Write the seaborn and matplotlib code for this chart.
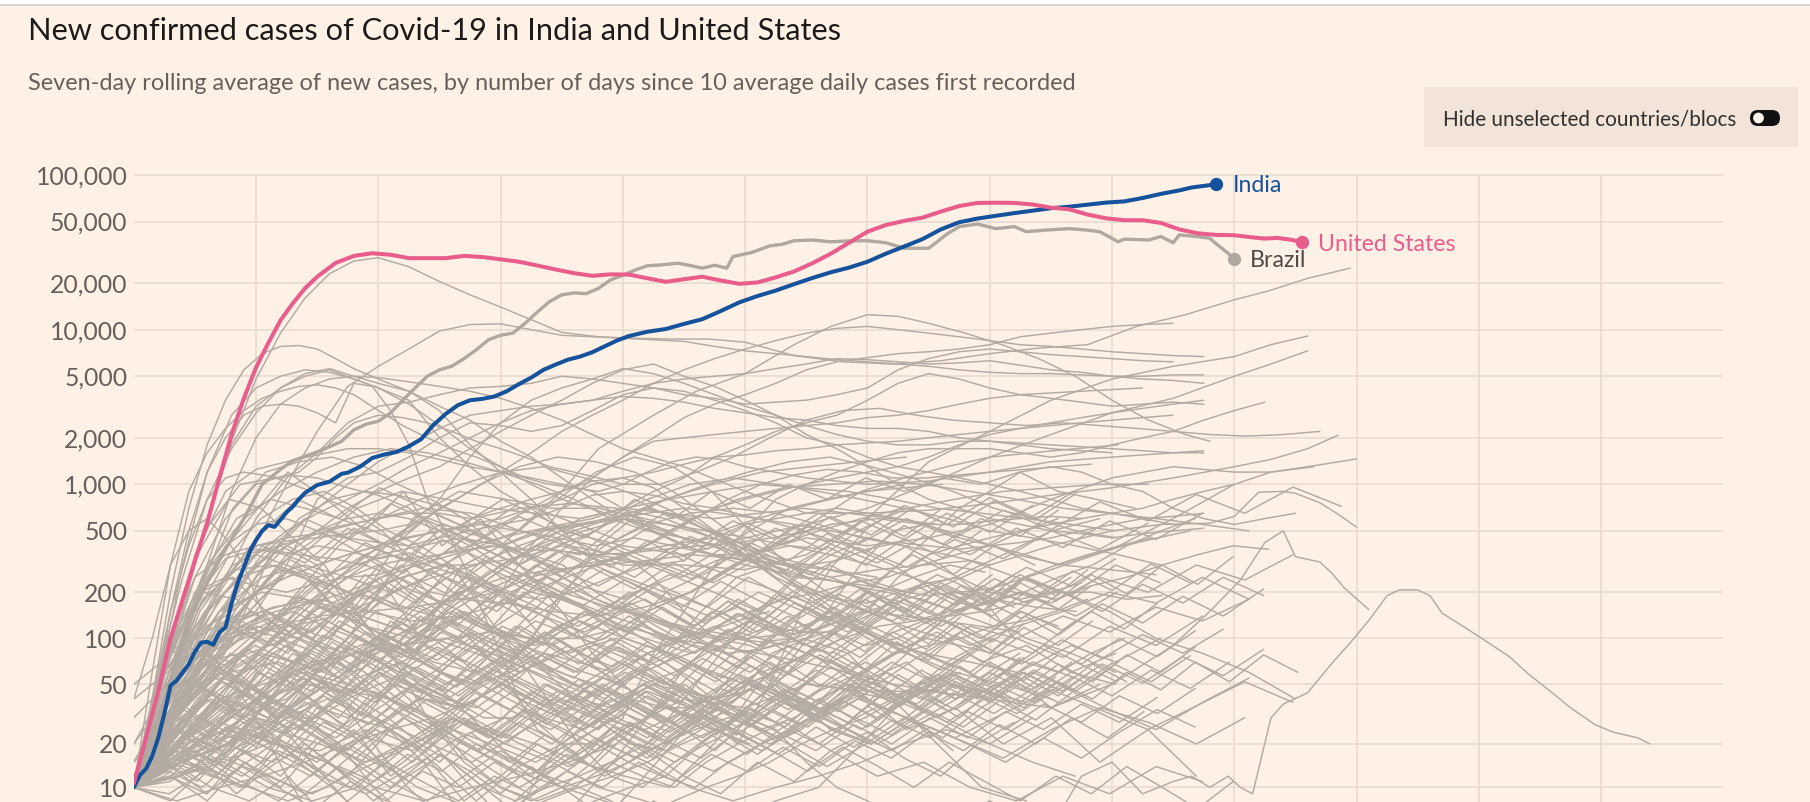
import numpy as np
import pandas as pd
import matplotlib
matplotlib.use("Agg")
import matplotlib.pyplot as plt
import seaborn as sns
from matplotlib.patches import Rectangle, FancyBboxPatch, Circle
from matplotlib.transforms import IdentityTransform

# ------------------------------------------------------------------ texts
title = "New confirmed cases of Covid-19 in India and United States"
subtitle = ("Seven-day rolling average of new cases, by number of days since "
            "10 average daily cases first recorded")
toggle_label = "Hide unselected countries/blocs"

y_ticks = [10, 20, 50, 100, 200, 500, 1000, 2000, 5000, 10000, 20000, 50000, 100000]
x_grid_days = [20, 40, 60, 80, 100, 120, 140, 160, 180, 200, 220, 240]

# ------------------------------------------------------------------ highlighted series
us_days = [0, 2, 4, 6, 8, 10, 12, 14, 16, 18, 20, 22, 24, 26, 28, 30, 33, 36, 39, 42,
           45, 48, 51, 54, 57, 60, 63, 66, 69, 72, 75, 78, 81, 84, 87, 90, 93, 96, 99,
           102, 105, 108, 111, 114, 117, 120, 123, 126, 129, 132, 135, 138, 141, 144,
           147, 150, 153, 156, 159, 162, 165, 168, 171, 174, 177, 180, 183, 185, 187,
           189, 191]
us_cases = [10.7, 22, 45, 100, 180, 320, 560, 1100, 2100, 3600, 5700, 8200, 11500, 14800,
            18500, 22000, 27000, 30000, 31200, 30500, 29000, 29000, 29000, 30000, 29500,
            28500, 27500, 26000, 24500, 23200, 22300, 22800, 22700, 21500, 20400, 21200,
            22000, 20800, 19800, 20200, 21800, 23800, 26900, 31000, 36500, 43000, 47500,
            50500, 53000, 58000, 63000, 66000, 66200, 66000, 64500, 61500, 60000, 55500,
            52500, 51000, 51000, 49000, 44500, 42000, 41000, 40800, 39500, 38800, 39200,
            38300, 37000]

india_days = [0, 1, 2, 3, 4, 5, 6, 7, 8, 9, 10, 11, 12, 13, 14, 15, 16, 17, 18, 19, 20,
              21, 22, 23, 24, 25, 26, 27, 28, 30, 32, 34, 35, 37, 39, 41, 43, 45, 47, 49,
              51, 53, 55, 57, 59, 61, 63, 65, 67, 69, 71, 73, 75, 77, 79, 81, 84, 87, 90,
              93, 96, 99, 102, 105, 108, 111, 114, 117, 120, 123, 126, 129, 132, 135, 138,
              141, 144, 147, 150, 153, 156, 159, 162, 165, 168, 171, 173, 175, 177]
india_cases = [10, 12.2, 13.5, 16.5, 22, 32, 49, 53, 60, 68, 82, 94, 95, 91, 110, 118, 170,
               230, 290, 370, 436, 500, 545, 530, 590, 660, 717, 800, 880, 990, 1040, 1170,
               1190, 1300, 1480, 1560, 1620, 1760, 1960, 2420, 2850, 3250, 3500, 3570, 3700,
               4000, 4450, 4900, 5500, 5950, 6400, 6700, 7150, 7800, 8500, 9100, 9700,
               10100, 10900, 11700, 13200, 15000, 16500, 17900, 19700, 21600, 23500, 25200,
               27500, 31000, 34500, 38500, 44500, 49500, 52300, 54500, 56700, 58800, 61000,
               62400, 64300, 66300, 67500, 71000, 75500, 79500, 83000, 85000, 87000]

brazil_days = [0, 3, 6, 9, 12, 15, 18, 21, 24, 26, 28, 30, 32, 34, 36, 38, 40, 42, 44, 46,
               48, 50, 52, 54, 56, 58, 60, 62, 64, 66, 68, 70, 72, 74, 76, 78, 80, 82, 84,
               86, 89, 91, 93, 95, 97, 98, 101, 104, 106, 108, 111, 114, 117, 120, 123,
               126, 130, 131, 133, 135, 138, 141, 144, 146, 149, 153, 156, 158, 161, 162,
               166, 168, 170, 171, 174, 176, 177, 179, 180]
brazil_cases = [10, 22, 55, 130, 230, 380, 600, 1000, 1250, 1420, 1520, 1620, 1750, 1900,
                2250, 2450, 2560, 2900, 3500, 4200, 5000, 5500, 5800, 6500, 7400, 8600,
                9200, 9500, 11000, 13000, 15200, 16800, 17300, 17100, 18500, 21000, 22500,
                24300, 25900, 26200, 26900, 26000, 25000, 26100, 25000, 29700, 31500, 34800,
                35600, 37600, 38000, 37000, 37500, 37600, 36500, 33600, 33600, 36000, 41500,
                46400, 48200, 45000, 46400, 43000, 44000, 45000, 44000, 43000, 37000, 38500,
                38000, 40000, 36500, 41000, 40000, 39000, 36000, 31200, 28500]

# ------------------------------------------------------------------ other countries / blocs (grey)
named_grey = {
    "EU": ([0, 4, 8, 12, 16, 20, 24, 28, 32, 36, 40, 45, 50, 55, 60, 65, 70, 76, 82, 88, 94,
            100, 108, 116, 124, 132, 140, 148, 156, 164, 172, 180, 186, 192, 199],
           [10, 40, 170, 600, 1900, 4800, 9500, 16000, 23000, 27800, 29200, 25500, 20500,
            16800, 14000, 11600, 9600, 9000, 8800, 8700, 8700, 8300, 6800, 6200, 6000, 6300,
            7000, 7600, 8000, 10500, 12500, 15600, 18000, 21500, 25000]),
    "Russia": (list(range(0, 180, 5)),
               [10, 25, 60, 160, 420, 1000, 2200, 4300, 5800, 7500, 9800, 10800, 10900, 10000,
                9200, 9000, 8800, 8600, 8400, 7800, 7300, 7000, 6700, 6400, 6200, 6000, 5800,
                5500, 5300, 5200, 5200, 5100, 5000, 5000, 5100, 5100]),
    "Spain": ([0, 3, 6, 9, 12, 15, 18, 21, 24, 27, 30, 33, 36, 40, 45, 50, 55, 60, 65, 70, 75,
               80, 90, 100, 110, 120, 130, 140, 150, 160, 170, 180, 186, 192],
              [10, 40, 200, 700, 1800, 3500, 5500, 7000, 7800, 7900, 7500, 6500, 5600, 4800,
               4000, 3000, 1800, 1200, 800, 500, 350, 300, 300, 280, 350, 600, 1400, 2200,
               3500, 4800, 5800, 6700, 8000, 9100]),
    "France": ([0, 4, 8, 12, 16, 20, 24, 28, 32, 36, 40, 45, 50, 55, 60, 65, 70, 80, 90, 100,
                110, 120, 130, 140, 150, 160, 170, 180, 186, 192],
               [10, 40, 150, 600, 1800, 3200, 4200, 5000, 5500, 4800, 4200, 3500, 2000, 1300,
                900, 700, 500, 400, 350, 450, 550, 700, 1000, 1500, 2100, 2900, 3600, 5000,
                6000, 7300]),
    "Italy": ([0, 4, 8, 12, 16, 20, 24, 28, 32, 36, 40, 45, 50, 55, 60, 65, 70, 75, 80, 90,
               100, 110, 120, 130, 140, 150, 160, 170, 180, 186, 192, 200],
              [10, 60, 250, 800, 1700, 2900, 4200, 5200, 5600, 5000, 4500, 4000, 3200, 2600,
               1900, 1500, 1100, 800, 600, 400, 300, 250, 220, 190, 210, 280, 380, 600, 1000,
               1200, 1300, 1460]),
    "UK": ([0, 4, 8, 12, 16, 20, 24, 28, 32, 36, 40, 45, 50, 55, 60, 65, 70, 75, 80, 90, 100,
            110, 120, 130, 140, 150, 160, 170, 180, 186, 192, 197],
           [10, 30, 90, 300, 900, 2000, 3300, 4200, 4800, 5000, 4900, 4600, 4300, 4000, 3600,
            3100, 2600, 2100, 1700, 1300, 900, 650, 650, 680, 750, 850, 950, 1100, 1300, 1450,
            1700, 2080]),
    "Germany": ([0, 4, 8, 12, 16, 20, 24, 28, 32, 36, 40, 45, 50, 55, 60, 65, 70, 80, 90, 100,
                 110, 120, 130, 140, 150, 160, 170, 180, 186, 193],
                [10, 50, 300, 1200, 2800, 4200, 5000, 5500, 5300, 4800, 4200, 3300, 2400, 1700,
                 1300, 1000, 800, 600, 450, 350, 450, 400, 450, 550, 800, 1100, 1300, 1200,
                 1200, 1300]),
    "Iran": ([0, 3, 6, 9, 12, 15, 18, 21, 24, 27, 30, 33, 36, 40, 44, 48, 52, 56, 60, 64, 68,
              72, 76, 80, 86, 92, 98, 104, 110, 116, 122, 128, 134, 140, 146, 152, 158, 164,
              170, 176, 182, 188, 194],
             [10, 40, 150, 400, 800, 1100, 1200, 1150, 1100, 1200, 1500, 2000, 2500, 2800,
              2700, 2500, 2200, 1900, 1700, 1500, 1300, 1200, 1100, 1000, 1000, 1200, 1500,
              2000, 2600, 3000, 3100, 2800, 2600, 2500, 2400, 2500, 2400, 2300, 2200, 2100,
              2050, 2100, 2200]),
    "Turkey": ([0, 3, 6, 9, 12, 15, 18, 21, 24, 27, 30, 33, 36, 40, 44, 48, 52, 56, 60, 64, 68,
                72, 76, 80, 84, 88, 92, 96, 100, 110, 120, 130, 140, 150, 160, 170, 175],
               [10, 60, 300, 900, 1600, 2300, 3000, 3600, 4000, 4300, 4400, 4200, 3800, 3000,
                2400, 2000, 1700, 1500, 1300, 1100, 1000, 950, 900, 1000, 1200, 1400, 1500,
                1450, 1300, 1100, 1000, 1050, 1200, 1400, 1500, 1600, 1650]),
    "South Africa": ([0, 5, 10, 15, 20, 25, 30, 35, 40, 45, 50, 55, 60, 65, 70, 76, 85, 92,
                      100, 108, 114, 120, 125, 130, 136, 142, 148, 154, 160, 166, 172, 176],
                     [10, 80, 100, 60, 80, 120, 180, 250, 300, 330, 350, 380, 400, 600, 900,
                      1700, 2800, 4000, 5200, 8000, 10500, 12500, 12200, 11000, 9500, 8000,
                      6500, 5000, 3500, 2600, 2100, 1900]),
    "China": ([0, 3, 6, 9, 12, 15, 18, 21, 24, 27, 30, 33, 36, 39, 42, 45, 48, 51, 54, 57, 60,
               63, 66, 70, 75, 80, 85, 90, 95, 100, 105, 110, 115, 120, 125, 130, 135, 140,
               145, 150, 155, 160, 165, 170, 173, 176, 179, 181, 183, 186, 188, 192, 196, 199,
               202, 205, 207, 210, 212, 214, 218, 220, 225, 228, 232, 235, 239, 242, 246, 248],
              [10, 30, 150, 500, 1200, 2000, 2800, 3200, 3300, 3200, 2900, 2500, 4500, 4300,
               3000, 1800, 800, 500, 300, 150, 80, 40, 25, 20, 30, 40, 50, 45, 40, 30, 25, 15,
               10, 8, 6, 5, 6, 8, 6, 5, 12, 15, 9, 11, 12, 10, 12, 10, 9, 30, 37, 44, 69, 94,
               131, 190, 207, 207, 190, 146, 116, 103, 76, 59, 44, 35, 27, 24, 22, 20]),
    "Japan-like A": ([0, 4, 8, 12, 16, 20, 25, 30, 35, 40, 45, 50, 55, 60, 65, 70, 80, 90, 100,
                      110, 120, 130, 140, 150, 160, 168, 176, 180, 184, 188, 190, 194, 197, 200],
                     [10, 20, 40, 60, 120, 200, 350, 500, 600, 650, 600, 500, 400, 300, 250,
                      200, 150, 120, 100, 110, 150, 200, 300, 400, 500, 550, 560, 620, 890, 900,
                      875, 760, 640, 528]),
    "Korea-like B": ([0, 3, 6, 9, 12, 15, 18, 21, 24, 27, 30, 35, 40, 45, 50, 55, 60, 65, 70,
                      75, 80, 90, 100, 110, 120, 130, 140, 150, 160, 170, 176, 181, 185, 188,
                      190, 194, 196, 198, 202],
                     [40, 100, 300, 500, 600, 450, 300, 150, 110, 100, 90, 80, 60, 40, 25, 15,
                      10, 8, 10, 15, 25, 40, 35, 50, 45, 45, 40, 35, 50, 90, 150, 240, 420, 500,
                      340, 314, 265, 213, 154]),
}

# grey series sampled every 5 days
named_grey_5day = {
    "Mexico": [10, 25, 60, 150, 300, 450, 700, 1000, 1400, 1800, 2300, 2800, 3000, 3200, 3300,
               3500, 4000, 4500, 4800, 5000, 5200, 5600, 6000, 6500, 6400, 6200, 6000, 6100,
               6300, 5900, 5500, 5300, 5000, 4800, 4700, 4500],
    "Peru": [10, 40, 100, 250, 600, 1100, 1600, 2500, 3200, 3400, 3800, 4200, 4300, 4500, 5000,
             4800, 4500, 4200, 3800, 3600, 3300, 3400, 3500, 3800, 4200, 5500, 6500, 7200, 7500,
             7200, 6900, 6700, 6500, 6300, 6200],
    "Chile": [10, 80, 250, 350, 400, 430, 450, 480, 500, 550, 800, 1500, 2500, 3500, 4200, 4800,
              5600, 5200, 4500, 3800, 3200, 2800, 2400, 2100, 1900, 1800, 1800, 1900, 1900, 1850,
              1800, 1750, 1700, 1650, 1600, 1600],
    "Colombia": [10, 40, 100, 150, 200, 250, 300, 350, 400, 500, 700, 900, 1200, 1600, 2200,
                 2800, 3500, 4500, 5500, 6500, 7500, 8500, 9500, 10200, 10500, 10000, 9500,
                 9000, 8500, 8000, 7800, 7500, 7200, 7000, 6800, 6700],
    "Argentina": [10, 40, 80, 100, 110, 120, 130, 150, 180, 220, 280, 400, 550, 700, 900, 1100,
                  1500, 2000, 2700, 3300, 3800, 4500, 5500, 6200, 6600, 7000, 7200, 7500, 8000,
                  9000, 9500, 10000, 10500, 10800, 11000],
    "Canada": [10, 60, 350, 900, 1250, 1400, 1550, 1700, 1700, 1600, 1450, 1300, 1200, 1100,
               1000, 900, 700, 500, 400, 350, 320, 310, 300, 320, 380, 420, 400, 380, 400, 420,
               450, 500, 550, 600, 620, 650],
    "Saudi Arabia": [10, 60, 100, 130, 150, 300, 800, 1100, 1200, 1500, 2000, 2500, 2400, 2200,
                     2400, 3000, 3800, 4200, 4000, 3500, 3000, 2500, 2000, 1800, 1500, 1300,
                     1200, 1100, 1000, 900, 800, 700, 650, 600, 550],
    "Pakistan": [10, 60, 120, 200, 300, 400, 500, 700, 900, 1100, 1300, 1700, 2200, 2800, 3500,
                 4500, 5500, 6000, 5000, 4300, 3500, 2800, 2100, 1700, 1300, 1000, 800, 700, 600,
                 550, 500, 480, 450, 480, 500, 520],
    "Bangladesh": [10, 40, 100, 200, 350, 500, 650, 800, 1000, 1300, 1600, 2000, 2500, 3000,
                   3300, 3500, 3700, 3600, 3400, 3100, 2900, 2700, 2600, 2400, 2300, 2300, 2200,
                   2000, 1900, 1800, 1700, 1650, 1600],
    "Philippines": [10, 60, 200, 250, 220, 200, 230, 250, 260, 300, 350, 400, 450, 500, 550, 600,
                    700, 900, 1100, 1500, 1800, 2200, 2500, 2800, 3500, 4500, 5200, 4800, 4200,
                    3800, 3600, 3400, 3200, 3300, 3400, 3300],
    "Indonesia": [10, 60, 110, 140, 200, 250, 300, 350, 400, 450, 500, 550, 600, 700, 800, 1000,
                  1100, 1200, 1350, 1500, 1550, 1650, 1700, 1800, 1850, 1900, 2000, 2100, 2200,
                  2300, 2500, 2700, 2900, 3100, 3300, 3500],
    "Israel": [10, 50, 180, 400, 550, 600, 500, 400, 300, 200, 150, 100, 60, 30, 20, 20, 30, 80,
               150, 300, 500, 800, 1000, 1200, 1400, 1600, 1700, 1700, 1700, 1600, 1500, 1600,
               1800, 2000, 2200, 2600, 3000, 3400],
    "Iraq": [10, 30, 50, 60, 40, 30, 30, 40, 50, 60, 80, 120, 200, 400, 700, 1100, 1500, 1900,
             2000, 2100, 2200, 2300, 2400, 2500, 2700, 2800, 3000, 3300, 3600, 3800, 3900, 4000,
             4100, 4200],
    "Ukraine": [10, 40, 100, 250, 400, 450, 480, 450, 420, 400, 450, 500, 550, 600, 700, 850,
                900, 850, 750, 700, 800, 900, 1000, 1100, 1200, 1300, 1500, 1800, 2100, 2300,
                2400, 2500, 2600, 2700, 2800],
    "Japan": [10, 15, 20, 25, 35, 40, 60, 100, 200, 400, 550, 500, 400, 250, 150, 80, 50, 35, 35,
              40, 45, 50, 80, 120, 200, 300, 450, 700, 900, 1200, 1300, 1200, 1000, 900, 700,
              600, 550, 600, 650],
}

# smaller countries (sampling interval in days cycles through the list below)
small_5day_steps = [5.0, 5.4, 5.8, 5.2, 5.6]
small_5day = [
    [10, 60, 250, 600, 1000, 1150, 1100, 950, 850, 700, 500, 350, 250, 200, 180, 150, 120, 90, 70,
     60, 50, 60, 80, 110, 150, 250, 350, 400, 450, 500, 550, 600, 650, 700, 800, 900, 1000],
    [10, 40, 200, 700, 1200, 1400, 1500, 1300, 1000, 800, 600, 400, 350, 300, 200, 150, 100, 90,
     80, 85, 100, 150, 300, 500, 550, 450, 400, 350, 300, 350, 400, 450, 500],
    [10, 100, 500, 1000, 1100, 900, 700, 500, 300, 200, 120, 80, 50, 30, 20, 18, 25, 40, 80, 100,
     120, 150, 130, 150, 170, 200, 180, 220, 250, 300, 350, 400, 380],
    [10, 80, 350, 800, 700, 450, 300, 150, 80, 50, 40, 30, 30, 50, 40, 35, 50, 60, 80, 100, 120,
     110, 110, 90, 100, 130, 150, 180, 250, 300, 350, 400, 450],
    [10, 50, 250, 600, 800, 700, 600, 500, 400, 300, 250, 200, 250, 300, 330, 300, 250, 320, 350,
     300, 250, 220, 200, 180, 150, 170, 200, 250, 300, 400, 500, 600],
    [10, 30, 60, 120, 250, 400, 500, 550, 600, 650, 650, 600, 700, 800, 900, 1050, 1100, 950, 700,
     500, 350, 250, 200, 180, 170, 200, 230, 250, 200, 180, 200, 230],
    [10, 80, 200, 250, 150, 110, 80, 60, 40, 30, 20, 15, 12, 10, 12, 15, 20, 25, 30, 25, 30, 40,
     60, 80, 100, 90, 80, 70, 60, 80, 100],
    [10, 60, 150, 250, 300, 250, 200, 180, 150, 130, 100, 80, 60, 50, 40, 35, 30, 40, 60, 80, 100,
     120, 130, 140, 150, 170, 200, 200, 180, 190],
    [10, 40, 150, 350, 600, 800, 900, 700, 500, 400, 300, 150, 80, 40, 20, 12, 10, 15, 20, 25, 20,
     25, 40, 60, 80, 90, 100, 120, 130, 150, 180],
    [10, 50, 180, 280, 300, 250, 150, 100, 80, 60, 50, 60, 80, 70, 60, 80, 100, 120, 150, 180, 200,
     230, 250, 300, 350, 400, 500, 600],
    [10, 60, 180, 330, 380, 350, 400, 370, 330, 360, 300, 300, 320, 350, 400, 350, 330, 300, 320,
     450, 550, 600, 650, 700, 650, 600, 550, 550, 580, 600, 620, 600],
    [10, 40, 150, 300, 380, 350, 330, 300, 250, 200, 180, 200, 250, 280, 300, 350, 450, 600, 800,
     1000, 1150, 1250, 1200, 1100, 1100, 1150, 1200, 1250, 1300, 1350],
    [10, 40, 70, 80, 60, 40, 25, 15, 10, 8, 6, 5, 6, 8, 10, 12, 20, 30, 50, 100, 150, 200, 250, 300,
     270],
    [10, 30, 80, 100, 120, 150, 120, 100, 80, 60, 40, 25, 15, 12, 10, 8, 6, 8, 10, 12, 15, 20, 25,
     30, 40, 50, 60],
    [10, 80, 200, 180, 120, 70, 40, 20, 10, 6, 4, 3, 5, 8, 15, 30, 60, 100, 90, 70, 50, 45, 40, 50,
     60],
    [10, 40, 150, 250, 350, 300, 250, 150, 100, 80, 60, 50, 70, 100, 200, 300, 350, 250, 150, 100,
     80, 90, 100, 150],
    [10, 40, 50, 35, 25, 15, 10, 6, 4, 3, 4, 6, 10, 15, 20, 15, 12, 10, 15, 20, 25],
    [10, 30, 60, 50, 30, 15, 8, 5, 3, 2, 3, 8, 20, 40, 60, 80, 150, 250, 300, 250],
    [10, 20, 40, 60, 80, 70, 50, 40, 30, 20, 15, 10, 8, 10, 12, 15, 12, 10, 15, 20, 50, 150, 300,
     500],
    [10, 50, 80, 60, 40, 30, 20, 10, 6, 4, 5, 6, 8, 10, 12, 15, 20, 25, 20],
    [10, 40, 80, 60, 30, 12, 5, 2, 1],
    [10, 20, 40, 100, 300, 600, 800, 900, 850, 750, 650, 500, 350, 250, 180, 150, 130, 110, 100,
     95, 100, 120, 150],
    [10, 30, 80, 120, 150, 170, 200, 250, 300, 350, 400, 380, 370, 350, 360, 380, 400, 420, 450,
     500],
    [10, 15, 20, 30, 40, 60, 70, 80, 100, 120, 150, 200, 250, 200, 170, 140, 120, 100, 110, 130,
     150],
    [10, 18, 30, 22, 40, 55, 38, 60, 85, 62, 90, 70, 110, 80, 65, 95, 72, 55, 80, 60, 48, 70, 52,
     40, 58, 45, 35, 52, 40, 60, 46, 70, 52, 78, 60],
    [10, 14, 22, 17, 28, 20, 35, 26, 44, 33, 25, 38, 29, 45, 34, 26, 40, 30, 23, 35, 27, 42, 32, 50,
     38, 58, 44, 66, 50, 75],
    [10, 25, 48, 36, 70, 52, 95, 70, 130, 96, 150, 115, 90, 125, 98, 140, 105, 80, 115, 88, 130,
     100, 75, 110, 85, 125, 95, 140, 105, 150, 115, 170],
    [10, 9, 13, 10, 16, 12, 19, 14, 22, 30, 23, 34, 26, 20, 28, 21, 16, 24, 18, 13, 19, 14, 10, 15,
     11, 8, 12, 9, 14, 10, 7, 11],
    [10, 30, 60, 95, 140, 105, 180, 135, 230, 170, 300, 220, 175, 250, 190, 150, 210, 160, 125, 180,
     140, 110, 160, 125, 190, 145, 220, 170, 250, 190, 280],
    [10, 16, 28, 45, 34, 58, 44, 75, 56, 42, 62, 48, 36, 54, 40, 30, 46, 35, 26, 40, 30, 45, 34, 52,
     40, 60, 46, 68, 52, 78, 60, 88],
    [10, 20, 14, 26, 19, 34, 25, 18, 28, 21, 15, 24, 17, 12, 19, 14, 22, 16, 25, 18, 28, 21, 32, 24,
     36, 27, 40, 30, 45, 34],
    [12, 35, 70, 120, 90, 160, 125, 210, 160, 280, 210, 165, 240, 185, 140, 200, 155, 120, 175, 135,
     105, 150, 115, 165, 125, 180, 140, 200, 155, 220],
    [10, 22, 40, 30, 55, 80, 60, 110, 82, 150, 112, 200, 150, 115, 170, 130, 100, 145, 110, 160,
     120, 180, 135, 200, 150, 230, 175, 260, 195, 300, 225, 340],
    [10, 15, 11, 20, 15, 28, 21, 16, 25, 19, 30, 23, 36, 27, 42, 32, 50, 38, 60, 45, 70, 53, 82, 62,
     95, 72, 110, 83, 125],
    [10, 40, 75, 55, 100, 75, 130, 100, 76, 110, 85, 65, 95, 72, 55, 80, 60, 45, 66, 50, 38, 56, 42,
     62, 47, 70, 53, 78],
    [10, 12, 18, 14, 24, 18, 13, 20, 15, 11, 17, 13, 9, 14, 10, 7, 5, 8, 6],
    [20, 50, 90, 140, 105, 190, 145, 260, 195, 150, 220, 170, 130, 190, 145, 110, 160, 120, 175,
     130, 190, 145, 210, 160, 235, 180, 260],
    [10, 28, 20, 38, 28, 50, 37, 27, 40, 30, 22, 33, 25, 18, 27, 20, 30, 23, 34, 26, 39, 29, 44, 33,
     50, 38, 56],
    [10, 18, 34, 60, 45, 80, 60, 105, 78, 140, 105, 80, 120, 90, 68, 100, 75, 57, 85, 64, 95, 72,
     108, 82, 122, 92, 138],
]

small_6day_steps = [5.6, 6.2, 6.6, 5.9, 6.4]
small_6day = [
    [10, 13, 10, 16, 12, 9, 14, 11, 17, 13, 20, 15, 23, 17, 26, 20, 30, 23, 34, 26, 40, 30, 46, 35,
     52, 40, 60, 46, 68, 52],
    [10, 35, 65, 48, 90, 68, 125, 94, 72, 105, 80, 60, 88, 66, 50, 74, 56, 42, 62, 47, 70, 53, 79,
     60, 90, 68, 100, 76, 112],
    [10, 20, 40, 70, 110, 85, 150, 115, 200, 150, 270, 205, 155, 225, 170, 130, 190, 145, 110, 160,
     120, 180, 135, 200, 150, 225, 170, 250, 190],
    [10, 11, 16, 12, 18, 14, 10, 15, 11, 8, 12, 9, 13, 10, 15, 11, 17, 13, 19, 14, 21, 16, 24, 18,
     27, 20, 30, 22, 33],
    [10, 24, 45, 34, 60, 45, 80, 60, 45, 66, 50, 38, 55, 42, 32, 47, 36, 27, 40, 30, 45, 34, 50, 38,
     56, 42, 62, 47, 70],
    [15, 40, 28, 55, 40, 75, 55, 100, 75, 130, 98, 75, 110, 82, 62, 90, 68, 52, 76, 57, 85, 64, 95,
     72, 105, 80, 118, 90, 130],
    [10, 17, 13, 22, 16, 28, 21, 35, 26, 44, 33, 25, 37, 28, 21, 31, 23, 17, 26, 19, 29, 22, 33, 25,
     37, 28, 42, 32, 47],
    [10, 30, 55, 90, 68, 120, 90, 160, 120, 210, 160, 120, 175, 132, 100, 145, 110, 82, 120, 90,
     135, 100, 150, 113, 168, 126, 188, 140, 210],
    [10, 12, 9, 14, 10, 7, 11, 8, 13, 10, 15, 11, 17, 13, 20, 15, 23, 17, 26, 20, 30, 23, 34, 26,
     39, 29, 44],
    [10, 45, 90, 150, 110, 200, 150, 260, 195, 340, 255, 195, 280, 210, 160, 235, 175, 135, 195,
     150, 220, 165, 245, 185, 275, 205, 305, 230],
    [10, 19, 15, 26, 20, 34, 25, 45, 34, 60, 45, 34, 50, 38, 29, 42, 32, 24, 35, 26, 40, 30, 45, 34,
     50, 38, 56, 42, 62],
    [10, 26, 18, 32, 24, 42, 31, 55, 41, 30, 45, 34, 26, 38, 29, 22, 32, 24, 18, 27, 20, 30, 22, 33,
     25, 37, 28, 41],
    [10, 15, 25, 40, 30, 50, 38, 65, 48, 85, 64, 48, 70, 53, 40, 58, 44, 33, 48, 36, 54, 41, 60, 45,
     68, 51, 76, 57, 85],
    [10, 33, 22, 44, 30, 58, 42, 78, 57, 42, 62, 46, 34, 50, 37, 28, 42, 31, 46, 34, 51, 38, 56, 42,
     63, 47, 70],
    [10, 14, 20, 30, 22, 36, 27, 45, 34, 56, 42, 32, 47, 35, 26, 39, 29, 44, 33, 49, 37, 55, 41, 62,
     46, 69, 52, 77],
    [10, 22, 15, 9, 14, 20, 13, 8, 12, 17, 11, 7, 10, 15, 22, 16, 24, 35, 26, 38, 28, 42, 60, 45,
     66, 50, 75],
    [10, 28, 52, 85, 64, 105, 80, 60, 88, 66, 50, 36, 52, 38, 28, 40, 30, 22, 32, 24, 18, 26, 20,
     15, 22, 16, 24, 34, 26],
    [10, 16, 12, 20, 30, 22, 34, 50, 38, 56, 80, 60, 88, 66, 96, 72, 54, 78, 58, 84, 62, 90, 68, 98,
     74, 106, 80, 115],
]

small_7day_steps = [6.3, 7.0, 7.6, 6.7, 7.3, 6.0, 7.9]
small_7day = [
    [10, 100, 300, 600, 1200, 800, 500, 900, 400, 600, 300, 400, 500, 800, 600, 900, 700, 1000,
     800, 1100, 900, 1100, 1000, 1200, 900, 800, 700],
    [10, 60, 150, 250, 300, 250, 200, 250, 300, 400, 500, 600, 800, 1000, 1100, 1000, 900, 800,
     700, 600, 500, 450, 400, 350, 300],
    [10, 60, 120, 160, 180, 150, 130, 140, 170, 230, 300, 400, 600, 800, 950, 1000, 1050, 1000,
     900, 800, 700, 650, 600, 550, 500],
    [10, 15, 25, 40, 60, 80, 100, 150, 200, 300, 400, 500, 600, 800, 1000, 1200, 1400, 1500, 1300,
     1100, 900, 700, 600, 500, 450],
    [10, 12, 15, 20, 30, 50, 80, 150, 250, 400, 600, 700, 800, 900, 1000, 950, 900, 800, 700, 650,
     600, 550, 500],
    [10, 12, 20, 30, 40, 60, 80, 120, 200, 300, 400, 500, 550, 600, 650, 700, 650, 600, 550, 500,
     450, 400],
    [10, 20, 25, 20, 15, 10, 8, 10, 12, 15, 20, 40, 80, 150, 300, 500, 700, 800, 900, 950, 1000,
     1000],
    [10, 15, 12, 10, 8, 10, 15, 20, 30, 50, 80, 120, 150, 200, 250, 350, 500, 700, 800, 900, 950,
     1000],
    [10, 8, 10, 12, 15, 20, 25, 30, 40, 60, 80, 100, 150, 200, 300, 400, 500, 600, 700],
    [10, 15, 20, 30, 50, 80, 120, 200, 250, 280, 300, 320, 350, 330, 300, 280, 250],
    [10, 20, 40, 80, 150, 250, 350, 400, 450, 400, 500, 550, 600, 550, 500, 450, 400, 350, 300,
     250, 200, 180, 160, 150],
    [10, 30, 80, 150, 100, 200, 300, 150, 250, 400, 350, 600, 500, 700, 600, 500, 400, 300, 200,
     150, 100, 80, 60],
    [10, 12, 15, 20, 30, 40, 60, 80, 120, 200, 300, 400, 500, 600, 700, 600, 450, 300, 200, 150,
     120],
    [10, 15, 20, 30, 50, 80, 100, 150, 250, 400, 600, 800, 1000, 1200, 1300, 1400, 1500],
    [10, 30, 80, 120, 150, 200, 300, 500, 700, 1000, 1300, 1500, 1400, 1200, 900, 600, 400, 250,
     180, 150, 140, 130, 120, 110],
    [10, 50, 120, 150, 180, 150, 120, 100, 80, 60, 80, 100, 150, 200, 300, 400, 600, 900, 1100,
     1300, 1500, 1600, 1700, 1800],
    [10, 40, 90, 120, 140, 150, 160, 180, 170, 150, 140, 160, 200, 300, 450, 550, 600, 550, 450,
     350, 300, 280, 260],
    [10, 50, 100, 200, 300, 150, 250, 100, 300, 200, 100, 150, 100, 80, 60, 50, 40, 30, 20],
    [10, 15, 30, 50, 70, 80, 90, 100, 110, 100, 100, 120, 100, 90, 80, 70, 60, 50, 45],
    [10, 20, 40, 80, 150, 250, 300, 350, 300, 250, 200, 180, 200, 250, 300, 400, 500, 600, 700,
     800, 900, 1000],
    [10, 25, 40, 60, 100, 200, 400, 600, 700, 750, 700, 600, 450, 300, 200, 120, 80, 60, 50, 40],
    [10, 30, 60, 80, 100, 150, 200, 250, 300, 400, 500, 800, 1200, 1500, 1300, 900, 500, 300, 200,
     150, 120, 100],
    [10, 20, 40, 50, 60, 50, 40, 60, 100, 150, 250, 400, 550, 650, 700, 650, 550, 450, 400, 350,
     300],
    [10, 15, 20, 25, 20, 15, 20, 30, 60, 150, 400, 700, 600, 400, 250, 150, 100, 80, 70, 60],
    [10, 30, 60, 100, 200, 400, 600, 800, 1000, 1200, 1300, 1100, 900, 700, 500, 400, 300, 250,
     200, 150],
    [10, 40, 100, 200, 400, 700, 900, 800, 700, 650, 600, 700, 650, 600, 650, 700, 650, 600, 550],
    [10, 80, 300, 600, 900, 1200, 1500, 1700, 1600, 1400, 1200, 1000, 800, 600, 500, 450, 400, 300,
     250, 240],
    [10, 40, 150, 400, 500, 600, 700, 650, 500, 400, 350, 400, 450, 350, 300, 250, 200, 250, 350,
     500, 600],
    [10, 30, 60, 100, 150, 250, 350, 450, 500, 550, 500, 450, 400, 450, 400, 350, 350, 400, 380],
    [10, 50, 150, 200, 180, 150, 120, 100, 60, 40, 30, 20, 15, 10, 8, 10, 12, 15, 20, 25, 20, 15,
     12],
    [10, 15, 20, 40, 80, 200, 600, 900, 800, 700, 700, 600, 500, 400, 300, 250, 280, 300, 320, 250,
     200, 150, 100, 80, 60, 40],
    [10, 40, 100, 120, 100, 70, 40, 25, 12, 6, 4, 3, 2, 3, 4, 5, 6, 4, 3],
    [10, 12, 15, 10, 8, 10, 20, 30, 25, 20, 15, 12, 10, 20, 50, 100, 80, 40, 20, 10, 8],
    [10, 50, 150, 350, 400, 300, 150, 80, 30, 15, 10, 8, 10, 15, 20, 40, 80, 150, 250, 350, 450,
     400, 300, 200, 100],
    [10, 30, 60, 70, 50, 30, 15, 5, 2, 1],
    [10, 15, 20, 25, 20, 15, 10, 6, 4, 3, 2, 3, 5, 10, 20, 40, 80, 120],
    [10, 20, 30, 40, 50, 45, 40, 30, 20, 15, 10, 8, 6, 5, 6, 8, 10, 20, 40, 50, 45],
    [10, 20, 40, 80, 120, 80, 50, 30, 20, 15, 10, 8, 6, 5],
    [10, 20, 30, 50, 100, 150, 300, 200, 150, 100, 80, 60, 50],
    [10, 20, 40, 80, 150, 200, 250, 300, 200, 150, 100, 80, 50, 30, 20],
    [10, 30, 60, 120, 100, 80, 60, 40, 30, 20, 15, 10],
    [10, 40, 120, 300, 500, 380, 620, 470, 760, 580, 440, 650, 490, 370, 540, 410, 600, 450, 680,
     510, 770, 580, 860, 650, 960, 720],
    [10, 30, 80, 180, 330, 250, 420, 320, 520, 390, 300, 440, 330, 250, 370, 280, 420, 320, 480,
     360, 540, 410, 600, 460, 680],
    [10, 50, 150, 350, 600, 450, 750, 560, 420, 620, 470, 350, 520, 390, 580, 440, 650, 490, 730,
     550, 820, 620, 910],
    [10, 25, 60, 130, 240, 180, 300, 230, 380, 290, 220, 320, 245, 360, 275, 410, 310, 460, 350,
     520, 390, 580, 440, 650],
    [10, 60, 200, 450, 800, 600, 950, 720, 540, 800, 600, 450, 660, 500, 380, 560, 420, 620, 470,
     700, 530, 780, 590, 870],
    [10, 20, 45, 90, 170, 130, 220, 165, 280, 210, 160, 240, 180, 135, 200, 150, 230, 175, 260, 195,
     290, 220, 330],
    [10, 35, 100, 240, 420, 320, 520, 390, 300, 450, 340, 260, 380, 290, 430, 320, 480, 360, 540,
     410, 610, 460, 690],
    [10, 45, 130, 280, 220, 380, 290, 480, 360, 270, 400, 300, 230, 340, 260, 390, 290, 440, 330,
     500, 380, 560],
    [10, 28, 70, 150, 280, 210, 350, 265, 440, 330, 250, 370, 280, 210, 310, 235, 350, 265, 395,
     300, 445, 335, 500],
    [10, 55, 180, 400, 310, 520, 390, 650, 490, 370, 550, 410, 310, 460, 350, 520, 390, 580, 440,
     650, 490, 730],
    [10, 15, 12, 20, 18, 25, 15, 30, 22, 40, 30, 25, 35, 20, 28, 18, 12, 15, 10, 8, 12, 9, 14, 11],
    [10, 20, 35, 25, 45, 30, 60, 40, 35, 50, 30, 25, 40, 55, 35, 30, 45, 25, 20, 30, 18],
    [12, 25, 18, 40, 30, 55, 70, 50, 80, 60, 45, 70, 50, 40, 60, 35, 50, 40, 30, 45, 38, 60, 50],
    [10, 8, 14, 10, 20, 15, 25, 12, 18, 30, 22, 35, 28, 40, 30, 50, 35, 60, 45, 70, 55],
    [10, 30, 20, 45, 70, 40, 90, 60, 120, 80, 100, 70, 90, 60, 80, 50, 70, 40, 60, 35, 50],
    [10, 15, 25, 20, 35, 50, 30, 60, 45, 80, 55, 100, 70, 120, 90, 150, 110, 180, 130, 200],
    [10, 40, 60, 35, 80, 50, 100, 70, 60, 90, 55, 40, 65, 45, 30, 50, 35, 25, 40, 28, 20, 30],
    [15, 30, 50, 80, 60, 110, 80, 150, 100, 200, 140, 180, 120, 160, 110, 140, 100, 130, 90, 120,
     150, 200, 170, 250, 180],
    [10, 20, 15, 30, 25, 40, 60, 45, 80, 120, 90, 150, 110, 200, 160, 250, 180, 300, 220, 350, 260,
     400, 300],
    [10, 25, 40, 30, 55, 45, 70, 100, 80, 130, 100, 160, 120, 100, 140, 90, 120, 80, 110, 70, 90,
     60, 80],
    [10, 12, 8, 15, 10, 20, 30, 25, 40, 35, 50, 70, 55, 90, 70, 110, 85, 130, 100, 150, 120, 180,
     140, 200, 160],
    [10, 35, 80, 50, 130, 90, 70, 110, 60, 90, 50, 70, 40, 55, 30, 45, 25, 35, 20, 30, 15, 25, 12],
    [20, 45, 70, 110, 80, 160, 120, 90, 140, 100, 80, 120, 90, 70, 100, 80, 60, 90, 70, 110, 80,
     130, 100, 150, 120],
    [10, 18, 28, 22, 38, 30, 50, 42, 35, 55, 40, 30, 45, 35, 25, 40, 30, 50, 40, 60, 45, 70, 55],
    [10, 12, 20, 15, 30, 22, 18, 28, 20, 35, 25, 45, 30, 55, 40, 65, 50, 80, 60, 100, 75, 120, 90,
     140],
    [10, 30, 55, 40, 70, 55, 90, 70, 50, 75, 55, 40, 60, 45, 35, 55, 40, 70, 50, 85, 65, 100],
    [30, 60, 100, 150, 110, 200, 150, 250, 180, 300, 220, 180, 260, 200, 150, 220, 170, 130, 200,
     150, 250, 190, 300, 230],
    [10, 20, 45, 30, 60, 90, 60, 130, 90, 70, 110, 80, 60, 90, 130, 95, 150, 110, 170, 130, 200,
     150, 230, 180, 260],
    [50, 90, 70, 130, 100, 180, 130, 250, 180, 350, 260, 200, 280, 220, 170, 240, 190, 150, 210,
     170, 250, 200, 300, 240, 350],
    [10, 15, 10, 8, 12, 6, 10, 15, 25, 18, 30, 45, 35, 60, 80, 60, 100, 140, 100, 180, 130, 220,
     170, 260, 200],
    [10, 25, 15, 35, 20, 12, 25, 15, 8, 14, 20, 12, 18, 25, 35, 28, 45, 60, 40, 70, 100, 80, 130],
    [40, 70, 120, 90, 160, 120, 100, 140, 110, 90, 130, 100, 80, 110, 90, 70, 100, 80, 120, 100,
     140, 110, 160, 130, 180],
    [10, 40, 25, 60, 45, 90, 70, 130, 100, 180, 140, 110, 150, 120, 90, 130, 100, 80, 120, 90, 150,
     120, 180, 140, 200],
    [10, 20, 30, 60, 45, 100, 75, 150, 110, 90, 130, 100, 80, 120, 90, 150, 110, 180, 140, 220,
     170, 250],
    [10, 14, 9, 18, 12, 22, 15, 10, 16, 8, 12, 20, 14, 25, 18, 12, 9, 15, 11, 18, 24, 16, 12, 20,
     28],
    [10, 20, 12, 8, 15, 25, 18, 30, 20, 14, 22, 35, 25, 18, 28, 40, 30, 22, 16, 25, 35, 28, 20, 30],
    [10, 25, 40, 28, 18, 12, 20, 30, 22, 15, 10, 14, 22, 16, 26, 38, 27, 20, 14, 20, 30, 22, 35,
     50, 38],
    [12, 30, 20, 45, 30, 22, 35, 25, 18, 28, 20, 32, 48, 35, 25, 40, 30, 55, 40, 28, 42, 60, 45,
     70],
    [10, 16, 26, 18, 12, 9, 14, 22, 30, 20, 35, 50, 36, 26, 40, 28, 20, 30, 45, 32, 48, 34, 25, 38,
     55],
    [10, 35, 55, 38, 26, 18, 28, 40, 58, 42, 30, 45, 32, 22, 34, 50, 36, 26, 20, 30, 44, 32, 48,
     70, 52],
    [10, 12, 16, 12, 9, 13, 18, 26, 20, 15, 22, 32, 24, 36, 50, 38, 28, 40, 58, 44, 64, 90, 70,
     100],
    [15, 40, 70, 50, 35, 24, 16, 11, 8, 12, 18, 13, 20, 30, 22, 33, 24, 17, 25, 36, 26, 38, 55, 40],
    [10, 22, 16, 28, 40, 30, 21, 15, 24, 35, 26, 18, 13, 20, 30, 42, 30, 22, 32, 46, 34, 25, 36,
     52, 38],
    [10, 18, 30, 48, 34, 50, 72, 52, 38, 55, 80, 58, 42, 60, 44, 32, 46, 34, 50, 70, 52, 38, 56,
     80],
]

# ------------------------------------------------------------------ style
W, H = 1810, 802
BG = "#FFF1E5"
GRID = "#E8DCD1"
GREY = "#B3AAA2"
GREY_B = "#B0A79F"
PINK = "#E95D8C"
BLUE = "#14529C"
TICK_C = "#66605C"
TITLE_C = "#1C1A19"
SUB_C = "#66605C"
BOX_C = "#F2E4D8"

sns.set_theme(style="white")
plt.rcParams["font.family"] = ["Lato", "DejaVu Sans"]

fig = plt.figure(figsize=(W / 100, H / 100), dpi=100, facecolor=BG)

px_day0, px_day260 = 133.8, 1723.4
px_100k, decade_px = 175.0, 154.7
ax_top_px = 165.0
ax = fig.add_axes([px_day0 / W, 0, (px_day260 - px_day0) / W, (H - ax_top_px) / H])
ax.set_facecolor(BG)


def fwd(v):
    return np.log10(np.clip(v, 0, None) + 1.0)


def inv(y):
    return 10.0 ** y - 1.0


ax.set_yscale("function", functions=(fwd, inv))
y_top = inv(5 + (px_100k - ax_top_px) / decade_px)
y_bot = inv(5 - (H - px_100k) / decade_px)
ax.set_xlim(0, 260)
ax.set_ylim(y_bot, y_top)

# grid
ax.hlines(y_ticks, 0, 260, colors=GRID, lw=1.2, zorder=0.5)
ax.vlines(x_grid_days, y_bot, 100000, colors=GRID, lw=1.2, zorder=0.5)

# ------------------------------------------------------------------ grey lines via seaborn
rows = []
uid = 0
for name, (d, v) in named_grey.items():
    for di, vi in zip(d, v):
        rows.append((uid, di, vi))
    uid += 1
for name, v in named_grey_5day.items():
    for i, vi in enumerate(v):
        rows.append((uid, i * 5, vi))
    uid += 1
for steps, group in [(small_5day_steps, small_5day), (small_6day_steps, small_6day),
                     (small_7day_steps, small_7day)]:
    for k, v in enumerate(group):
        step = steps[k % len(steps)]
        for i, vi in enumerate(v):
            rows.append((uid, i * step, vi))
        uid += 1
grey_df = pd.DataFrame(rows, columns=["line", "day", "cases"])

sns.lineplot(data=grey_df, x="day", y="cases", units="line", estimator=None,
             color=GREY, linewidth=1.05, sort=False, legend=False, ax=ax, zorder=2)

sns.lineplot(x=brazil_days, y=brazil_cases, color=GREY_B, linewidth=2.4, sort=False,
             ax=ax, zorder=3, solid_joinstyle="round", solid_capstyle="round")
sns.lineplot(x=india_days, y=india_cases, color=BLUE, linewidth=2.9, sort=False,
             ax=ax, zorder=4, solid_joinstyle="round", solid_capstyle="round")
sns.lineplot(x=us_days, y=us_cases, color=PINK, linewidth=2.9, sort=False,
             ax=ax, zorder=5, solid_joinstyle="round", solid_capstyle="round")

ends = [(brazil_days[-1], brazil_cases[-1], GREY_B, "Brazil", "#4F4A47", 11.5, -5.4),
        (india_days[-1], india_cases[-1], BLUE, "India", BLUE, 12.5, -5.8),
        (us_days[-1], us_cases[-1], PINK, "United States", PINK, 11.5, -6.5)]
label_objs = []
for d, v, c, lab, tc, dx, dy in ends:
    ax.scatter([d], [v], s=92, color=c, zorder=6, clip_on=False, linewidths=0)
    t = ax.annotate(lab, xy=(d, v), xytext=(dx, dy), textcoords="offset points",
                    ha="left", va="baseline", color=tc, fontsize=15.5, zorder=7,
                    annotation_clip=False)
    label_objs.append(t)

# axes cosmetics
ax.set_xlabel("")
ax.set_ylabel("")
ax.set_xticks([])
ax.set_yticks(y_ticks)
ax.set_yticklabels([f"{t:,}" for t in y_ticks])
ax.minorticks_off()
ax.tick_params(axis="y", length=0, pad=4.6, labelcolor=TICK_C, labelsize=15)
for s in ax.spines.values():
    s.set_visible(False)

# ------------------------------------------------------------------ header
fig.add_artist(Rectangle((0, H - 4), W, 4, transform=IdentityTransform(),
                         facecolor="white", edgecolor="none", zorder=10))
fig.add_artist(Rectangle((0, H - 5.5), W, 1.5, transform=IdentityTransform(),
                         facecolor="#DAD4CF", edgecolor="none", zorder=10))

t_title = fig.text(28 / W, 1 - 39.5 / H, title, fontsize=20, color=TITLE_C,
                   ha="left", va="baseline")
t_sub = fig.text(28 / W, 1 - 90 / H, subtitle, fontsize=16.5, color=SUB_C,
                 ha="left", va="baseline")

fig.add_artist(Rectangle((1424, H - 147), 374, 60, transform=IdentityTransform(),
                         facecolor=BOX_C, edgecolor="none", zorder=1))
t_tog = fig.text(1443 / W, 1 - 125.7 / H, toggle_label, fontsize=16, color="#33302E",
                 ha="left", va="baseline")
fig.add_artist(FancyBboxPatch((1758, H - 118), 14, 0, boxstyle="round,pad=8",
                              transform=IdentityTransform(), facecolor="#111111",
                              edgecolor="none", zorder=2))
fig.add_artist(Circle((1758.5, H - 118), 6.3, transform=IdentityTransform(),
                      facecolor="#FFF6EE", edgecolor="#111111", lw=1.3, zorder=3))

# ------------------------------------------------------------------ fit text widths
fig.canvas.draw()
r = fig.canvas.get_renderer()


def fit(t, target_px):
    w = t.get_window_extent(renderer=r).width
    t.set_fontsize(t.get_fontsize() * target_px / w)


fit(t_title, 815)
fit(t_sub, 1051)
fit(t_tog, 294)
fit(label_objs[2], 138)
for t in label_objs[:2]:
    t.set_fontsize(label_objs[2].get_fontsize())

tmp = fig.text(0, 0, "100,000", fontsize=15)
w = tmp.get_window_extent(renderer=r).width
tmp.remove()
ax.tick_params(axis="y", labelsize=15 * 92 / w)

fig.savefig("out.png", dpi=100, facecolor=BG)
